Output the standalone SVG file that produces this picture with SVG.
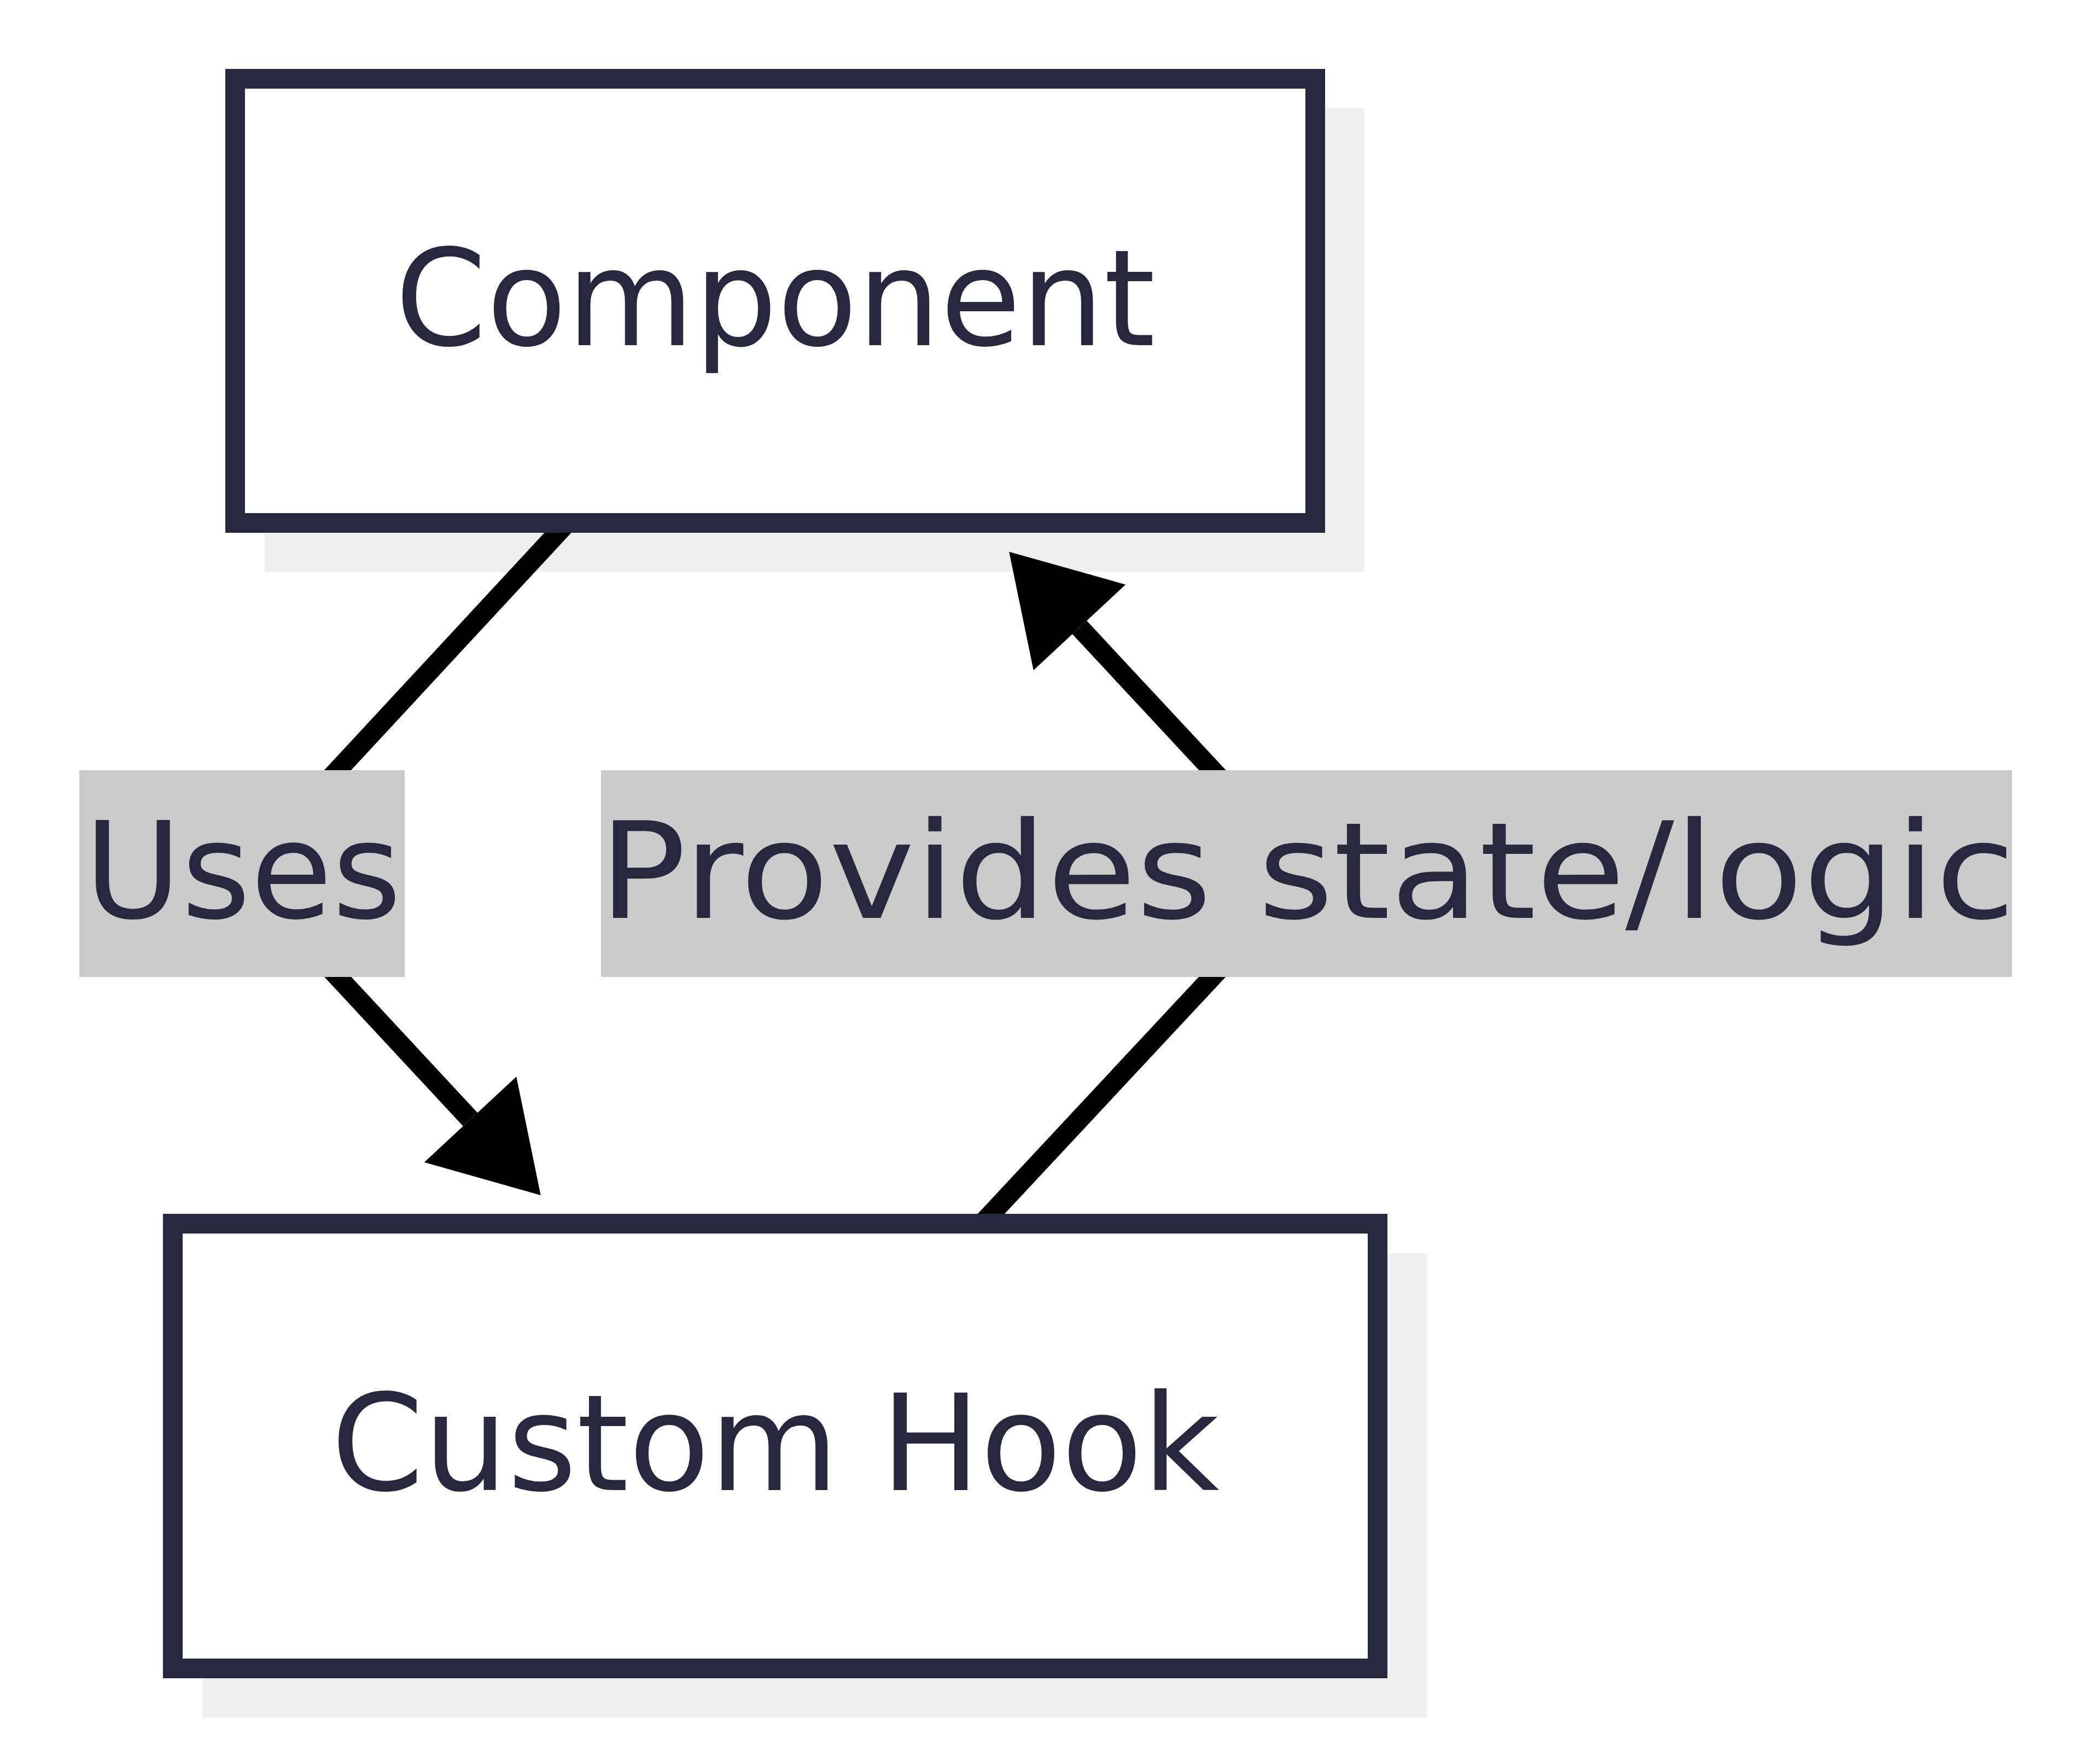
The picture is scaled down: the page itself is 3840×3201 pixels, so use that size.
<svg xmlns="http://www.w3.org/2000/svg" width="3840" height="3201" viewBox="0 0 3840 3201">
  <style>
    .shadow { fill: #efefef; }
    .box { fill: #ffffff; stroke: #27273e; stroke-width: 36; }
    .txt { font-family: "DejaVu Sans", "Liberation Sans", sans-serif; font-size: 245px; fill: #29263f; text-anchor: middle; }
    .lblbg { fill: #cbcbcb; }
    .edge { fill: none; stroke: #000000; stroke-width: 36; stroke-linejoin: miter; }
  </style>
  <defs>
    <marker id="arrow" markerUnits="userSpaceOnUse" markerWidth="189" markerHeight="230" refX="0" refY="115" orient="auto" overflow="visible">
      <path d="M0,0 L189,115 L0,230 z" fill="#000000"/>
    </marker>
    <clipPath id="between">
      <rect x="0" y="974" width="3840" height="1245"/>
    </clipPath>
  </defs>
  <rect width="3840" height="3201" fill="#ffffff"/>

  <g id="node-component">
    <rect class="shadow" x="484" y="198" width="2011" height="848"/>
    <rect class="box" x="430" y="144" width="1975" height="812"/>
    <text class="txt" x="1417.5" y="631" textLength="1390" lengthAdjust="spacingAndGlyphs">Component</text>
  </g>

  <g id="node-hook">
    <rect class="shadow" x="370" y="2291" width="2239" height="849"/>
    <rect class="box" x="316" y="2237" width="2203" height="813"/>
    <text class="txt" x="1417.5" y="2724" textLength="1624" lengthAdjust="spacingAndGlyphs">Custom Hook</text>
  </g>

  <g id="connectors">
    <g id="edge-uses">
      <path class="edge" clip-path="url(#between)" d="M1046,946 L442,1597 L860,2046.5" marker-end="url(#arrow)"/>
      <rect class="lblbg" x="145" y="1408" width="595" height="378"/>
      <text class="txt" x="444" y="1678" textLength="580" lengthAdjust="spacingAndGlyphs">Uses</text>
    </g>
    <g id="edge-provides">
      <path class="edge" clip-path="url(#between)" d="M1790,2243 L2393,1597 L1974,1147" marker-end="url(#arrow)"/>
      <rect class="lblbg" x="1099" y="1408" width="2580" height="378"/>
      <text class="txt" x="2390" y="1678" textLength="2590" lengthAdjust="spacingAndGlyphs">Provides state/logic</text>
    </g>
  </g>
</svg>
